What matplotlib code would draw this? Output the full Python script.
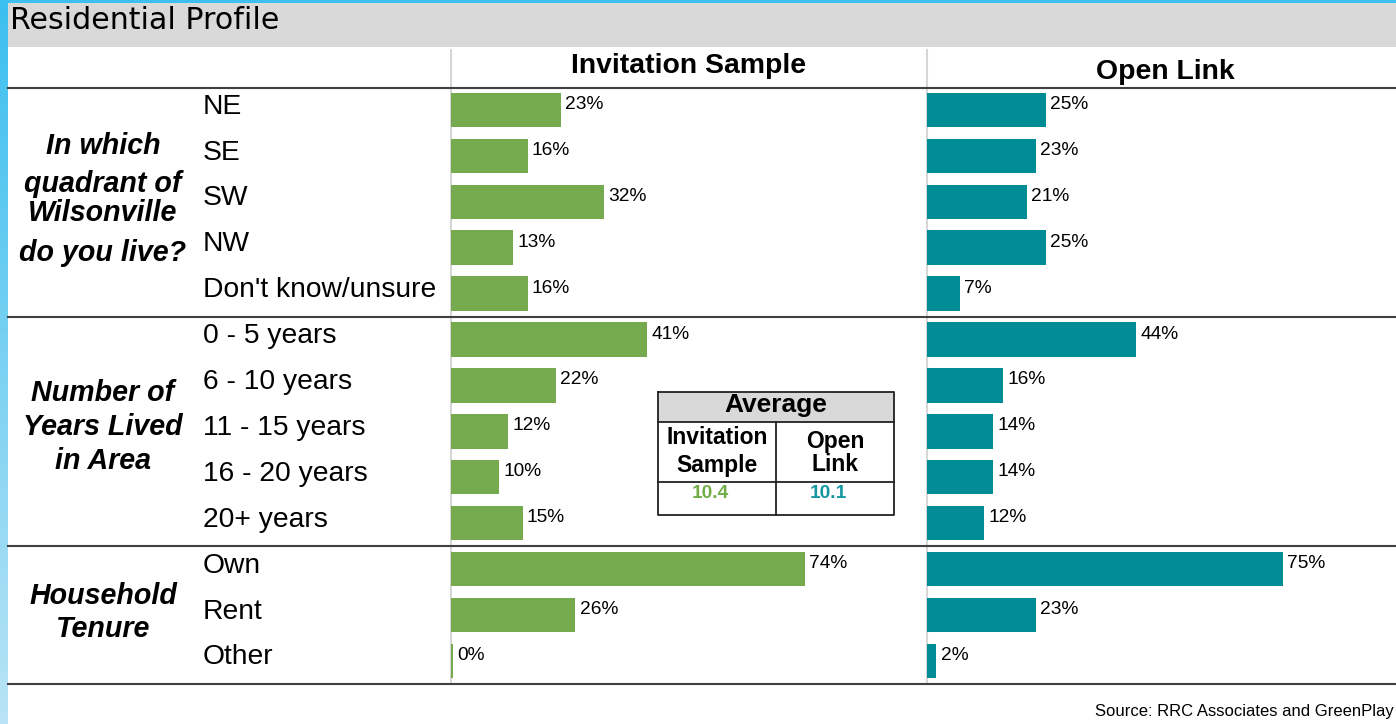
import numpy as np
import matplotlib.pyplot as plt
from matplotlib import transforms
from matplotlib.patches import Rectangle

W, H = 1396, 724

# data
categories = ["NE", "SE", "SW", "NW", "Don't know/unsure",
              "0 - 5 years", "6 - 10 years", "11 - 15 years", "16 - 20 years", "20+ years",
              "Own", "Rent", "Other"]
invitation = [23, 16, 32, 13, 16, 41, 22, 12, 10, 15, 74, 26, 0]
open_link = [25, 23, 21, 25, 7, 44, 16, 14, 14, 12, 75, 23, 2]
group_breaks = [4.5, 9.5]
avg_invitation = "10.4"
avg_open = "10.1"

GREEN = "#75aa4f"
TEAL = "#008c94"

plt.rcParams['font.family'] = ['Liberation Sans', 'DejaVu Sans']

fig = plt.figure(figsize=(W / 100, H / 100), dpi=100)
bg = fig.add_axes([0, 0, 1, 1])
bg.set_xlim(0, W)
bg.set_ylim(H, 0)
bg.axis('off')


def fig_box(x0, y0, x1, y1):
    return [x0 / W, 1 - y1 / H, (x1 - x0) / W, (y1 - y0) / H]


# frame decorations
grad = np.linspace(0, 1, 200).reshape(-1, 1)
top_c = np.array([59, 191, 239]) / 255
bot_c = np.array([185, 228, 245]) / 255
img = top_c + grad[..., None] * (bot_c - top_c)
bg.imshow(img.reshape(200, 1, 3), extent=(0, 8, H, 0), aspect='auto')
bg.set_xlim(0, W)
bg.set_ylim(H, 0)
bg.add_patch(Rectangle((0, 0), W, 3, color="#3cc0f0", lw=0))
bg.add_patch(Rectangle((8, 3), W - 8, 44, color="#d9d9d9", lw=0))
bg.text(10, 29, "Residential Profile", family="DejaVu Sans", fontsize=21.6, va="baseline", ha="left")

# panels
row_y0, row_step = 110, 45.9
ylim = ((684 - row_y0) / row_step, -(row_y0 - 88) / row_step)
rows = np.arange(len(categories))

ax1 = fig.add_axes(fig_box(451, 88, 927, 684))
ax2 = fig.add_axes(fig_box(927, 88, 1396, 684))
for ax, vals, color, px_per in [(ax1, invitation, GREEN, 4.784), (ax2, open_link, TEAL, 4.747)]:
    box = ax.get_position()
    ax.barh(rows, np.maximum(vals, 0.35), height=0.75, color=color)
    ax.set_xlim(0, box.width * W / px_per)
    ax.set_ylim(*ylim)
    ax.axis('off')
    for r, v in zip(rows, vals):
        ax.annotate(f"{v}%", (max(v, 0.35), r), xytext=(3, 0.7), textcoords="offset points",
                    fontsize=13.8, va="baseline", ha="left")

# separators
for x in (451, 927):
    bg.plot([x, x], [50, 684], color="#d6d6d6", lw=1.5, zorder=1)
for y in (88, 684):
    bg.plot([8, W], [y, y], color="#404040", lw=1.5, zorder=3)
row_tr = transforms.blended_transform_factory(bg.transData, ax1.transData)
for yb in group_breaks:
    bg.plot([8, W], [yb, yb], color="#404040", lw=1.5, transform=row_tr, zorder=3)

# headers
bg.text(689, 73, "Invitation Sample", fontsize=20.4, fontweight="bold", ha="center", va="baseline")
bg.text(1165, 79, "Open Link", fontsize=20.4, fontweight="bold", ha="center", va="baseline")

# category labels
for r, c in zip(rows, categories):
    bg.text(203, r + 0.08, c, transform=row_tr, fontsize=20.3, ha="left", va="baseline")

# question labels
q_lines = [("In which", 154), ("quadrant of", 192), ("Wilsonville", 221), ("do you live?", 261),
           ("Number of", 401), ("Years Lived", 435), ("in Area", 469),
           ("Household", 604), ("Tenure", 637)]
for txt, yb in q_lines:
    bg.text(103, yb, txt, fontsize=20.6, fontweight="bold", fontstyle="italic",
            ha="center", va="baseline")

# average table
bg.add_patch(Rectangle((658, 392), 236, 30, facecolor="#d9d9d9", edgecolor="none", zorder=4))
bg.add_patch(Rectangle((658, 422), 236, 93, facecolor="white", edgecolor="none", zorder=4))
lk = dict(color="#222222", lw=1.3, zorder=5)
bg.plot([658, 894, 894, 658, 658], [392, 392, 515, 515, 392], **lk)
bg.plot([658, 894], [422, 422], **lk)
bg.plot([658, 894], [482, 482], **lk)
bg.plot([776, 776], [422, 515], **lk)
bg.text(776, 412, "Average", fontsize=19, fontweight="bold", ha="center", va="baseline", zorder=6)
bg.text(717, 444, "Invitation", fontsize=16.5, fontweight="bold", ha="center", va="baseline", zorder=6)
bg.text(717, 472, "Sample", fontsize=16.5, fontweight="bold", ha="center", va="baseline", zorder=6)
bg.text(835, 448, "Open", fontsize=16.5, fontweight="bold", ha="center", va="baseline", zorder=6)
bg.text(835, 471, "Link", fontsize=16.5, fontweight="bold", ha="center", va="baseline", zorder=6)
bg.text(710, 498, avg_invitation, fontsize=13.8, fontweight="bold", color="#70ad47",
        ha="center", va="baseline", zorder=6)
bg.text(828, 498, avg_open, fontsize=13.8, fontweight="bold", color="#15979f",
        ha="center", va="baseline", zorder=6)

# source (kept fully inside the figure)
bg.text(W - 2, 716, "Source: RRC Associates and GreenPlay", fontsize=12, ha="right", va="baseline")

fig.savefig("out.png", dpi=100)
